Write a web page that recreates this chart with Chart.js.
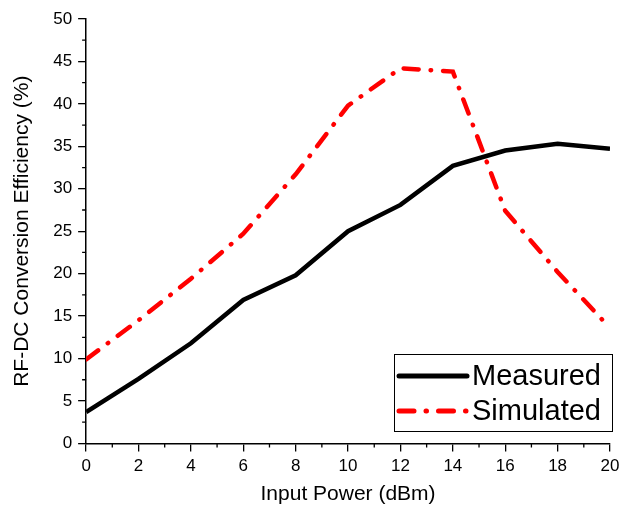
<!DOCTYPE html>
<html>
<head>
<meta charset="utf-8">
<script src="https://cdn.jsdelivr.net/npm/chart.js@4"></script>
<style>
  body { margin: 0; background: #fff; }
  #wrap { width: 620px; height: 508px; }
</style>
</head>
<body>
<div id="wrap"><canvas id="myChart"></canvas></div>
<script>
const inputPower = [0, 2, 4, 6, 8, 10, 12, 14, 16, 18, 20];
const measured = [3.7, 7.6, 11.8, 16.9, 19.8, 25.0, 28.1, 32.7, 34.5, 35.3, 34.7];
const simulated = [9.9, 14.5, 19.4, 24.7, 31.7, 39.8, 44.2, 43.8, 27.4, 20.2, 13.6];
const seriesNames = ['Measured', 'Simulated'];

const ctx = document.getElementById('myChart');
const font = 'Liberation Sans, Arial, sans-serif';

// minor ticks (Origin style) drawn on the axes
const minorTicks = {
  id: 'minorTicks',
  afterDraw(chart) {
    const c = chart.ctx;
    const x = chart.scales.x, y = chart.scales.y;
    c.save();
    c.strokeStyle = '#000';
    c.lineWidth = 1.3;
    c.beginPath();
    for (let v = 1; v < 20; v += 2) {
      const px = x.getPixelForValue(v);
      c.moveTo(px, y.bottom);
      c.lineTo(px, y.bottom + 4);
    }
    for (let v = 2.5; v < 50; v += 5) {
      const py = y.getPixelForValue(v);
      c.moveTo(x.left, py);
      c.lineTo(x.left - 4, py);
    }
    c.stroke();
    c.restore();
  }
};

// boxed legend inside the plot, bottom right
const boxLegend = {
  id: 'boxLegend',
  afterDraw(chart) {
    const c = chart.ctx;
    const bx = 394, by = 354, bw = 218, bh = 77;
    c.save();
    c.fillStyle = '#fff';
    c.fillRect(bx, by, bw, bh);
    c.strokeStyle = '#000';
    c.lineWidth = 1;
    c.strokeRect(bx + 0.5, by + 0.5, bw, bh);
    chart.data.datasets.forEach((ds, i) => {
      const ly = by + 22 + i * 35;
      c.beginPath();
      c.strokeStyle = ds.borderColor;
      c.lineWidth = ds.borderWidth + 0.5;
      c.lineCap = 'round';
      c.setLineDash(ds.borderDash || []);
      c.moveTo(399, ly);
      c.lineTo(467, ly);
      c.stroke();
      c.setLineDash([]);
      c.fillStyle = '#000';
      c.font = '29px ' + font;
      c.textBaseline = 'middle';
      c.fillText(ds.label, 472, ly + 1);
    });
    c.restore();
  }
};

new Chart(ctx, {
  type: 'line',
  data: {
    labels: inputPower,
    datasets: [
      {
        label: seriesNames[0],
        data: measured,
        borderColor: '#000',
        borderWidth: 4.5,
        pointRadius: 0,
        tension: 0
      },
      {
        label: seriesNames[1],
        data: simulated,
        borderColor: '#ff0000',
        borderWidth: 4.5,
        borderDash: [15, 12, 0.5, 12],
        borderCapStyle: 'round',
        pointRadius: 0,
        tension: 0
      }
    ]
  },
  options: {
    responsive: true,
    maintainAspectRatio: false,
    animation: false,
    layout: { padding: { top: 19, right: 10, left: 10, bottom: 1 } },
    plugins: {
      legend: { display: false },
      tooltip: { enabled: false }
    },
    scales: {
      x: {
        type: 'linear',
        min: 0,
        max: 20,
        afterFit: scale => { scale.paddingLeft = 0; scale.paddingRight = 0; },
        ticks: {
          stepSize: 2,
          color: '#000',
          font: { family: font, size: 17 },
          padding: 5,
          maxRotation: 0
        },
        grid: { drawOnChartArea: false, drawTicks: true, tickLength: 8, color: '#000', lineWidth: 1.3 },
        border: { display: true, color: '#000', width: 1.5 },
        title: {
          display: true,
          text: 'Input Power (dBm)',
          color: '#000',
          font: { family: font, size: 21 },
          padding: { top: 0, bottom: 0 }
        }
      },
      y: {
        min: 0,
        max: 50,
        ticks: {
          stepSize: 5,
          color: '#000',
          font: { family: font, size: 17 },
          padding: 6
        },
        grid: { drawOnChartArea: false, drawTicks: true, tickLength: 8, color: '#000', lineWidth: 1.3 },
        border: { display: true, color: '#000', width: 1.5 },
        title: {
          display: true,
          text: 'RF-DC Conversion Efficiency (%)',
          color: '#000',
          font: { family: font, size: 21 },
          padding: { top: 0, bottom: 12 }
        }
      }
    }
  },
  plugins: [minorTicks, boxLegend]
});
</script>
</body>
</html>
